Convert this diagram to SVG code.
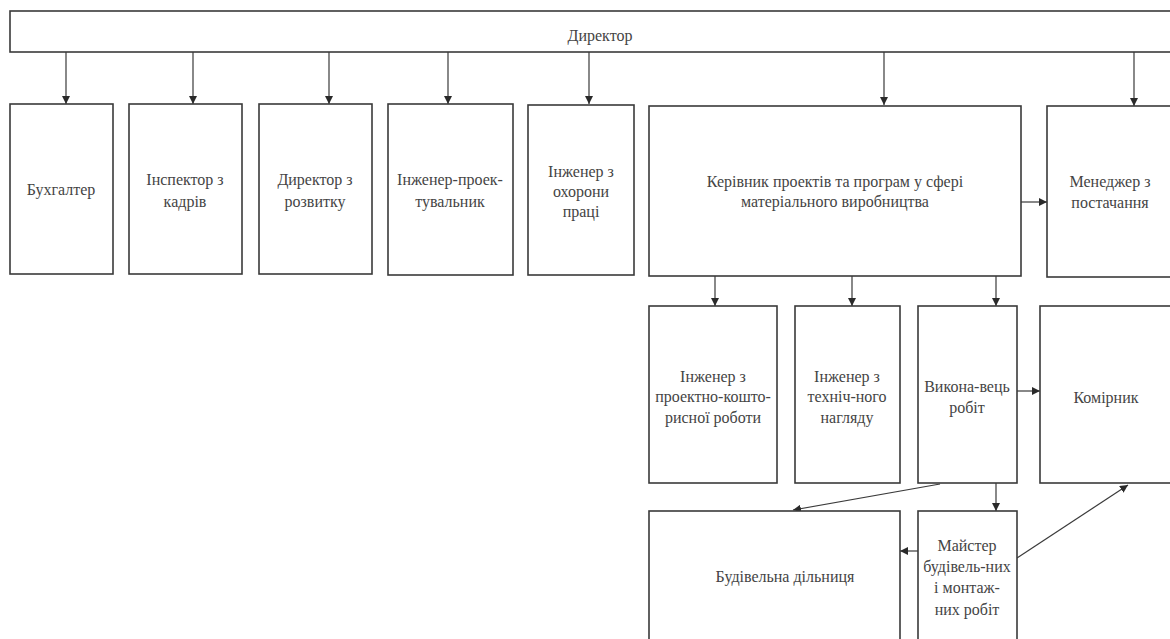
<svg xmlns="http://www.w3.org/2000/svg" width="1170" height="639" viewBox="0 0 1170 639">
<style>
.box{fill:#fff;stroke:#3a3a3a;stroke-width:1.6}
.t{font-family:"Liberation Serif","DejaVu Serif",serif;font-size:16px;fill:#444;text-anchor:middle}
.c{stroke:#3a3a3a;stroke-width:1.2;fill:none}
</style>
<defs>
<marker id="a" viewBox="0 0 10 10" refX="10" refY="5" markerWidth="8" markerHeight="8" markerUnits="userSpaceOnUse" orient="auto">
<path d="M0,0 L10,5 L0,10 z" fill="#2a2a2a"/>
</marker>
</defs>
<rect width="1170" height="639" fill="#fff"/>
<g id="connectors">
<path class="c" marker-end="url(#a)" d="M66,52 V104"/>
<path class="c" marker-end="url(#a)" d="M193,52 V104"/>
<path class="c" marker-end="url(#a)" d="M329,52 V104"/>
<path class="c" marker-end="url(#a)" d="M448,52 V104"/>
<path class="c" marker-end="url(#a)" d="M589,52 V104"/>
<path class="c" marker-end="url(#a)" d="M884,52 V105"/>
<path class="c" marker-end="url(#a)" d="M1134,52 V106"/>
<path class="c" marker-end="url(#a)" d="M1021,202 H1047"/>
<path class="c" marker-end="url(#a)" d="M715,276 V306"/>
<path class="c" marker-end="url(#a)" d="M852,276 V306"/>
<path class="c" marker-end="url(#a)" d="M996,276 V306"/>
<path class="c" marker-end="url(#a)" d="M1017,391 H1040"/>
<path class="c" marker-end="url(#a)" d="M996,483 V511"/>
<path class="c" marker-end="url(#a)" d="M940,484 L793,510"/>
<path class="c" marker-end="url(#a)" d="M918,551 H900"/>
<path class="c" marker-end="url(#a)" d="M1017,558 L1128,485"/>
</g>
<g id="director"><rect class="box" x="10" y="11" width="1170" height="41"/><text class="t" x="600" y="41">Директор</text></g>
<g id="buhgalter"><rect class="box" x="10" y="104" width="103" height="170"/><text class="t" x="61" y="195">Бухгалтер</text></g>
<g id="inspector"><rect class="box" x="129" y="104" width="113" height="170"/><text class="t" x="185" y="185">Інспектор з</text><text class="t" x="185" y="207">кадрів</text></g>
<g id="dir-rozvytku"><rect class="box" x="259" y="104" width="113" height="170"/><text class="t" x="315" y="185">Директор з</text><text class="t" x="315" y="207">розвитку</text></g>
<g id="inzh-proekt"><rect class="box" x="388" y="104" width="125" height="171"/><text class="t" x="450" y="185">Інженер-проек-</text><text class="t" x="450" y="207">тувальник</text></g>
<g id="inzh-ohorony"><rect class="box" x="528" y="105" width="106" height="170"/><text class="t" x="581" y="177">Інженер з</text><text class="t" x="581" y="197">охорони</text><text class="t" x="581" y="217">праці</text></g>
<g id="kerivnyk"><rect class="box" x="649" y="106" width="372" height="170"/><text class="t" x="835" y="187">Керівник проектів та програм у сфері</text><text class="t" x="835" y="207">матеріального виробництва</text></g>
<g id="menedzher"><rect class="box" x="1047" y="106" width="140" height="171"/><text class="t" x="1110" y="187">Менеджер з</text><text class="t" x="1110" y="208">постачання</text></g>
<g id="inzh-koshtorys"><rect class="box" x="649" y="306" width="128" height="177"/><text class="t" x="713" y="382">Інженер з</text><text class="t" x="713" y="402">проектно-кошто-</text><text class="t" x="713" y="423">рисної роботи</text></g>
<g id="inzh-naglyad"><rect class="box" x="795" y="306" width="105" height="177"/><text class="t" x="847" y="382">Інженер з</text><text class="t" x="847" y="402">техніч-ного</text><text class="t" x="847" y="423">нагляду</text></g>
<g id="vykonavets"><rect class="box" x="918" y="306" width="99" height="177"/><text class="t" x="967" y="392">Викона-вець</text><text class="t" x="967" y="413">робіт</text></g>
<g id="komirnyk"><rect class="box" x="1040" y="306" width="147" height="177"/><text class="t" x="1106" y="403">Комірник</text></g>
<g id="dilnytsya"><rect class="box" x="649" y="511" width="251" height="140"/><text class="t" x="785" y="582">Будівельна дільниця</text></g>
<g id="maister"><rect class="box" x="918" y="511" width="99" height="140"/><text class="t" x="967" y="551">Майстер</text><text class="t" x="967" y="572">будівель-них</text><text class="t" x="967" y="593">і монтаж-</text><text class="t" x="967" y="615">них робіт</text></g>
</svg>
